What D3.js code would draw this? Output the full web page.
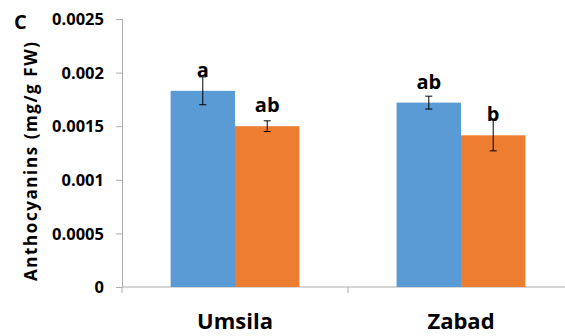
<!DOCTYPE html>
<html>
<head>
<meta charset="utf-8">
<script src="https://cdn.jsdelivr.net/npm/d3@7"></script>
<style>
  html, body { margin: 0; padding: 0; background: #fff; }
  svg { display: block; }
  text { font-family: "Open Sans", Lato, sans-serif; font-weight: bold; fill: #000; }
</style>
</head>
<body>
<svg id="chart" width="565" height="336"></svg>
<script>
// Anthocyanin content by site, two treatments
const sites = ["Umsila", "Zabad"];
const series = ["s1", "s2"];
const colors = ["#5B9BD5", "#ED7D31"];
const means = [[0.00183, 0.0015], [0.00172, 0.001415]];
const errors = [[0.00013, 0.00005], [0.00006, 0.000145]];
const letters = [["a", "ab"], ["ab", "b"]];
const yTicks = [0, 0.0005, 0.001, 0.0015, 0.002, 0.0025];
const yTickLabels = ["0", "0.0005", "0.001", "0.0015", "0.002", "0.0025"];

const svg = d3.select("#chart");
const plotLeft = 122, plotRight = 574, plotTop = 19, plotBottom = 287;
const axisColor = "#ADADAD";

const x = d3.scaleBand().domain(sites).range([plotLeft, plotRight]).paddingInner(0).paddingOuter(0);
const y = d3.scaleLinear().domain([0, 0.0025]).range([plotBottom, plotTop]);
const groupWidth = x.bandwidth() * 0.57;
const xs = d3.scaleBand().domain(series).range([0, groupWidth]);

// y axis
const yAxis = d3.axisLeft(y).tickValues(yTicks)
  .tickFormat((d, i) => yTickLabels[i]).tickSizeOuter(0).tickSize(6).tickPadding(12);
const gy = svg.append("g").attr("transform", `translate(${plotLeft},0)`).call(yAxis);
gy.select(".domain").attr("stroke", axisColor);
gy.selectAll(".tick line").attr("stroke", axisColor);
gy.selectAll(".tick text").style("font-size", "16.5px").attr("fill", "#000")
  .style("font-family", "'Open Sans', sans-serif").attr("dy", "0.34em");

// x axis
const gx = svg.append("g").attr("transform", `translate(0,${plotBottom})`)
  .call(d3.axisBottom(x).tickSize(0).tickFormat(""));
gx.select(".domain").attr("stroke", axisColor).attr("d", `M${plotLeft},0H${plotRight}`);
// category separators
svg.append("g").selectAll("line").data([plotLeft, ...sites.map(s => x(s) + x.bandwidth())])
  .join("line")
  .attr("x1", d => d).attr("x2", d => d)
  .attr("y1", plotBottom).attr("y2", plotBottom + 6)
  .attr("stroke", axisColor);

// category labels
svg.append("g").selectAll("text").data(sites).join("text")
  .attr("x", d => x(d) + x.bandwidth() / 2)
  .attr("y", 329)
  .attr("text-anchor", "middle")
  .style("font-size", "22px")
  .text(d => d);

// bars
const groups = svg.append("g").selectAll("g").data(sites).join("g")
  .attr("transform", d => `translate(${x(d) + (x.bandwidth() - groupWidth) / 2},0)`);

groups.each(function(site, si) {
  const g = d3.select(this);
  series.forEach((s, k) => {
    const v = means[si][k], e = errors[si][k];
    const cx = xs(s) + xs.bandwidth() / 2;
    g.append("rect")
      .attr("x", xs(s)).attr("width", xs.bandwidth())
      .attr("y", y(v)).attr("height", y(0) - y(v))
      .attr("fill", colors[k]);
    // error bar
    g.append("line").attr("x1", cx).attr("x2", cx)
      .attr("y1", y(v + e)).attr("y2", y(v - e))
      .attr("stroke", "#000").attr("stroke-width", 1);
    [v + e, v - e].forEach(t => {
      g.append("line").attr("x1", cx - 3.5).attr("x2", cx + 3.5)
        .attr("y1", y(t)).attr("y2", y(t))
        .attr("stroke", "#000").attr("stroke-width", 1);
    });
    // significance letter
    g.append("text").attr("x", cx).attr("y", y(v) - 14)
      .attr("text-anchor", "middle").style("font-size", "20px")
      .text(letters[si][k]);
  });
});

// y axis title
svg.append("text")
  .attr("transform", `translate(37,161.5) rotate(-90)`)
  .attr("text-anchor", "middle")
  .attr("textLength", 239)
  .attr("lengthAdjust", "spacing")
  .style("font-size", "17px")
  .text("Anthocyanins  (mg/g FW)");

// panel letter
svg.append("text").attr("x", 14).attr("y", 29).style("font-size", "20px").text("C");
</script>
</body>
</html>
